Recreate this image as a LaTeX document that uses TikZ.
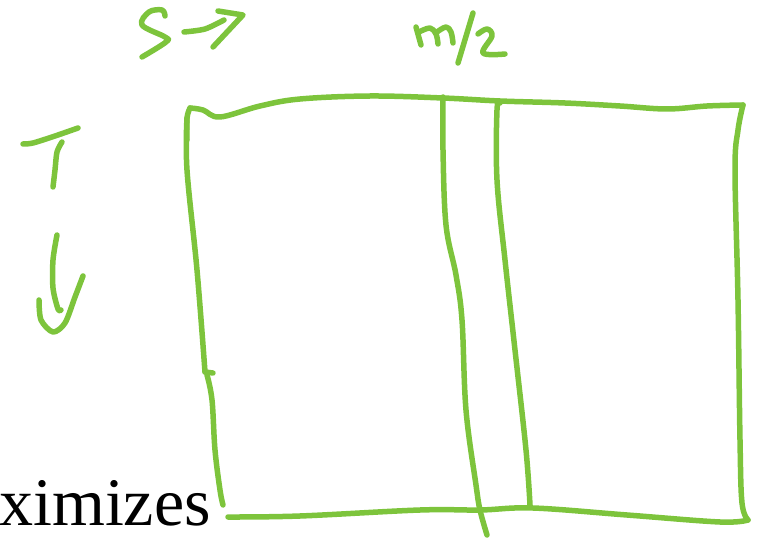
\documentclass[tikz,border=0pt]{standalone}
\usepackage{fontspec}
\setmainfont{Liberation Serif}
\usepackage{xcolor}
\definecolor{inkgreen}{RGB}{125,196,60}

\begin{document}
\begin{tikzpicture}[x=1pt, y=-1pt, line join=round,
    pen/.style={draw=inkgreen, line width=5.5pt, line cap=round}]
    \useasboundingbox (0,0) rectangle (761,540);

    % Corners of the grid
    \coordinate (TL) at (190,108);
    \coordinate (TR) at (743,105);
    \coordinate (BL) at (228,517);
    \coordinate (BR) at (748,520);

    % Label S ->
    \draw[pen] plot[smooth, tension=0.6] coordinates {(165,16) (162,10) (149,12) (142,25) (165,37) (166,42) (142,57)};
    \draw[pen] plot[smooth] coordinates {(184,32) (205,29) (224,20)};
    \draw[pen] (218,11) -- (243,15) -- (213,47);

    % Label m/2
    \draw[pen] plot[smooth, tension=0.5] coordinates {(416,27) (421,45)};
    \draw[pen] plot[smooth, tension=0.6] coordinates {(419,32) (430,28) (436,34) (438,44)};
    \draw[pen] plot[smooth, tension=0.6] coordinates {(437,32) (446,27) (451,32) (453,43)};
    \draw[pen] (473,13) -- (458,63);
    \draw[pen] plot[smooth, tension=0.6] coordinates {(478,34) (487,29) (492,36) (483,53) (505,54)};

    % Label T with down arrow
    \draw[pen] plot[smooth] coordinates {(23,144) (33,143) (55,136) (78,128)};
    \draw[pen] plot[smooth] coordinates {(62,142) (57,152) (55,170) (53,187)};
    \draw[pen] plot[smooth] coordinates {(57,235) (53,260) (53,288) (58,309) (61,310)};
    \draw[pen] plot[smooth] coordinates {(39,300) (41,320) (53,332) (65,323) (75,297) (83,276)};

    % Outer frame
    \draw[pen] plot[smooth, tension=0.6] coordinates {(TL) (203,110) (220,117) (260,106) (300,99) (370,96) (443,98) (500,101) (565,103) (620,106) (667,109) (707,106) (TR)};
    \draw[pen] plot[smooth, tension=0.6] coordinates {(187,140) (187,118) (TL)};
    \draw[pen] plot[smooth, tension=0.6] coordinates {(187,118) (187,170) (197,270) (205,372)};
    \draw[pen] (205,372) -- (213,373);
    \draw[pen] plot[smooth, tension=0.6] coordinates {(207,375) (212,400) (215,450) (220,490) (223,505)};
    \draw[pen] plot[smooth, tension=0.6] coordinates {(BL) (300,516) (420,510) (480,510) (533,508) (627,515) (720,522) (BR)};
    \draw[pen] plot[smooth, tension=0.6] coordinates {(BR) (742,503) (740,440) (738,300) (735,170) (738,130) (TR)};

    % Two vertical strip lines
    \draw[pen] plot[smooth, tension=0.6] coordinates {(443,97) (443,150) (446,225) (456,275) (462,320) (466,410) (476,485) (480,510) (487,535)};
    \draw[pen] plot[smooth, tension=0.6] coordinates {(500,103) (497,110) (497,180) (505,260) (515,350) (526,450) (530,505)};

    % Clipped caption text
    \node[anchor=base west, inner sep=0pt, font=\fontsize{68}{72}\selectfont] (caption) at (-1,525) {ximizes};
\end{tikzpicture}
\end{document}
